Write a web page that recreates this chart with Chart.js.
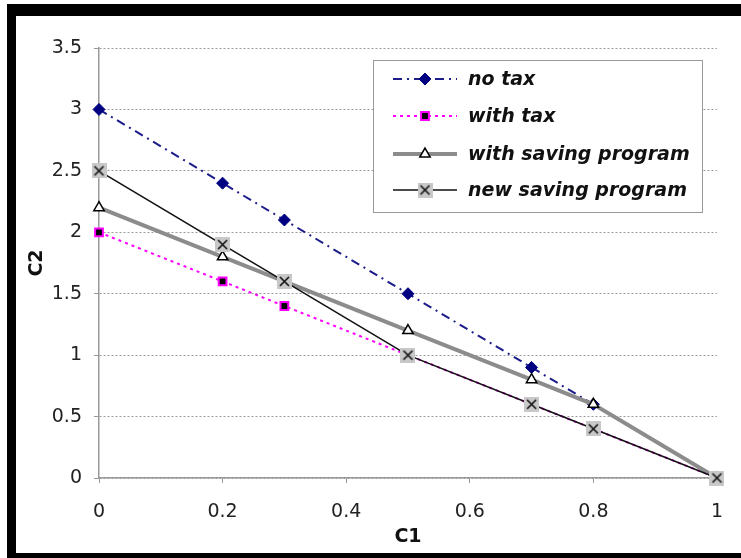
<!DOCTYPE html>
<html>
<head>
<meta charset="utf-8">
<script src="https://cdn.jsdelivr.net/npm/chart.js@4"></script>
<style>
  html, body { margin: 0; padding: 0; background: #fff; }
  #wrap { position: relative; width: 741px; height: 558px; overflow: hidden; }
  .bar { position: absolute; background: #000; }
</style>
</head>
<body>
<div id="wrap">
  <canvas id="myChart" width="741" height="558"></canvas>
  <div class="bar" style="left:7px;top:4px;width:734px;height:12px"></div>
  <div class="bar" style="left:7px;top:4px;width:9px;height:554px"></div>
  <div class="bar" style="left:7px;top:553px;width:734px;height:5px"></div>
</div>
<script>
// values
const c1Values = [0, 0.2, 0.3, 0.5, 0.7, 0.8, 1];
const noTax = [3, 2.4, 2.1, 1.5, 0.9, 0.6, 0];
const withTax = [2, 1.6, 1.4, 1.0, 0.6, 0.4, 0];
const withSaving = [2.2, 1.8, 1.6, 1.2, 0.8, 0.6, 0];
const newSaving = [2.5, 1.9, 1.6, 1.0, 0.6, 0.4, 0];
const seriesNames = ['no tax', 'with tax', 'with saving program', 'new saving program'];

const FONT = "'DejaVu Sans', sans-serif";

function pairs(ys) {
  return c1Values.map((x, i) => ({ x: x, y: ys[i] }));
}

// grey box with an X, like the excel marker
const xMarker = document.createElement('canvas');
xMarker.width = 15;
xMarker.height = 15;
(function () {
  const c = xMarker.getContext('2d');
  c.fillStyle = '#c8c8c8';
  c.fillRect(0, 0, 15, 15);
  c.strokeStyle = '#111';
  c.lineWidth = 1.6;
  c.beginPath();
  c.moveTo(3, 3); c.lineTo(12, 12);
  c.moveTo(12, 3); c.lineTo(3, 12);
  c.stroke();
})();

const boxLegend = {
  id: 'boxLegend',
  afterDraw(chart) {
    const ctx = chart.ctx;
    const left = 373, top = 60, w = 329, h = 152;
    ctx.save();
    ctx.fillStyle = '#fff';
    ctx.fillRect(left, top, w, h);
    ctx.strokeStyle = '#999';
    ctx.lineWidth = 1;
    ctx.strokeRect(left + 0.5, top + 0.5, w, h);
    const rows = [79, 116, 154, 190];
    chart.data.datasets.forEach((ds, i) => {
      const y = rows[i];
      ctx.save();
      ctx.strokeStyle = ds.borderColor;
      ctx.lineWidth = ds.borderWidth;
      ctx.setLineDash(ds.borderDash || []);
      ctx.beginPath();
      ctx.moveTo(393, y);
      ctx.lineTo(457, y);
      ctx.stroke();
      ctx.restore();
      ctx.fillStyle = ds.pointBackgroundColor;
      ctx.strokeStyle = ds.pointBorderColor;
      ctx.lineWidth = ds.pointBorderWidth;
      Chart.helpers.drawPoint(ctx, {
        pointStyle: ds.pointStyle,
        radius: ds.pointRadius,
        rotation: 0,
        borderWidth: ds.pointBorderWidth
      }, 425, y);
      ctx.fillStyle = '#111';
      ctx.font = 'italic bold 19px ' + FONT;
      ctx.textBaseline = 'middle';
      ctx.fillText(ds.label, 468, y + 1);
    });
    ctx.restore();
  }
};

new Chart(document.getElementById('myChart'), {
  type: 'scatter',
  data: {
    datasets: [
      {
        label: seriesNames[0],
        data: pairs(noTax),
        showLine: true,
        clip: false,
        borderColor: '#1c1c8a',
        borderWidth: 2,
        borderDash: [9, 5, 2, 5],
        pointStyle: 'rectRot',
        pointRadius: 6,
        pointBackgroundColor: '#000080',
        pointBorderColor: '#000080',
        pointBorderWidth: 1,
        order: 4
      },
      {
        label: seriesNames[1],
        data: pairs(withTax),
        showLine: true,
        clip: false,
        borderColor: '#ff00ff',
        borderWidth: 2,
        borderDash: [3, 4],
        pointStyle: 'rect',
        pointRadius: 5.5,
        pointBackgroundColor: '#000',
        pointBorderColor: '#ff00ff',
        pointBorderWidth: 2,
        order: 3
      },
      {
        label: seriesNames[2],
        data: pairs(withSaving),
        showLine: true,
        clip: false,
        borderColor: '#8c8c8c',
        borderWidth: 4,
        pointStyle: 'triangle',
        pointRadius: 6,
        pointBackgroundColor: '#fff',
        pointBorderColor: '#000',
        pointBorderWidth: 1.5,
        order: 2
      },
      {
        label: seriesNames[3],
        data: pairs(newSaving),
        showLine: true,
        clip: false,
        borderColor: '#111',
        borderWidth: 1.6,
        pointStyle: xMarker,
        pointRadius: 7,
        pointBackgroundColor: '#c8c8c8',
        pointBorderColor: '#111',
        pointBorderWidth: 1,
        order: 1
      }
    ]
  },
  options: {
    responsive: false,
    animation: false,
    devicePixelRatio: 1,
    layout: { padding: { top: 48, right: 24, left: 0, bottom: 0 } },
    plugins: {
      legend: { display: false },
      tooltip: { enabled: false }
    },
    scales: {
      x: {
        type: 'linear',
        min: 0,
        max: 1,
        afterFit(scale) { scale.height = 80; },
        ticks: {
          stepSize: 0.2,
          color: '#222',
          padding: 18,
          font: { family: FONT, size: 19 },
          callback: v => String(Math.round(v * 10) / 10)
        },
        grid: { drawOnChartArea: false, tickLength: 5, color: '#999', tickColor: '#999' },
        border: { color: '#999', width: 1.5 },
        title: {
          display: true,
          text: 'C1',
          color: '#111',
          padding: { top: 0, bottom: 10 },
          font: { family: FONT, size: 19, weight: 'bold' }
        }
      },
      y: {
        min: 0,
        max: 3.5,
        afterFit(scale) { scale.width = 99; },
        ticks: {
          stepSize: 0.5,
          color: '#222',
          padding: 12,
          font: { family: FONT, size: 19 },
          callback: v => String(v)
        },
        grid: { color: '#9a9a9a', tickLength: 5, tickColor: '#999', tickBorderDash: [] },
        border: { color: '#999', width: 1.5, dash: [2, 2] },
        title: {
          display: true,
          text: 'C2',
          color: '#111',
          padding: { top: 26, bottom: 0 },
          font: { family: FONT, size: 19, weight: 'bold' }
        }
      }
    }
  },
  plugins: [boxLegend]
});
</script>
</body>
</html>
